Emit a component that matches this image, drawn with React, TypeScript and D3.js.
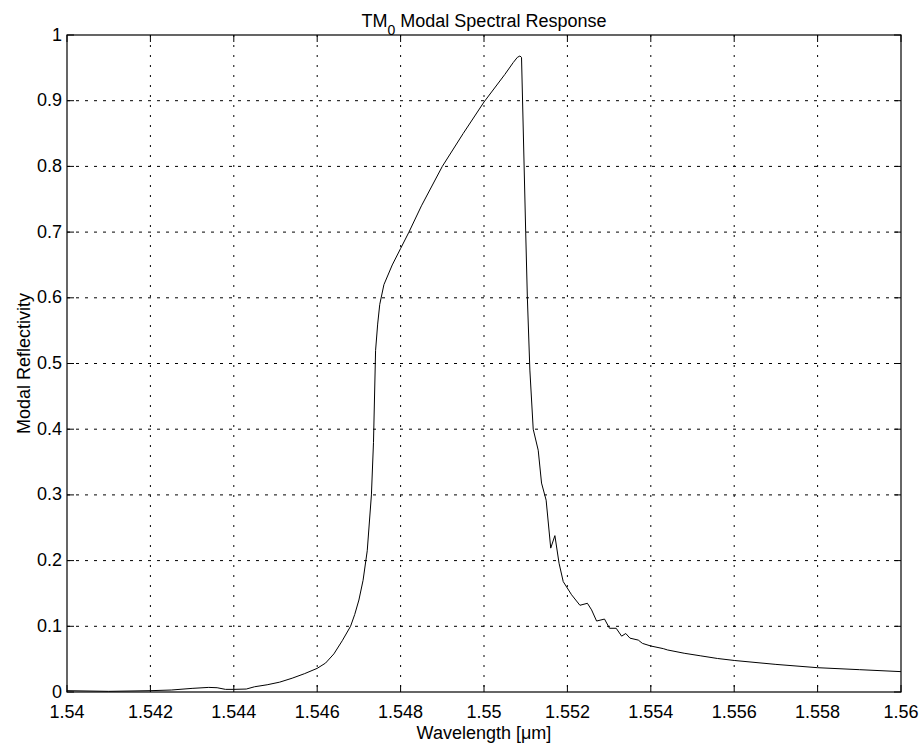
import React from "react";
import * as d3 from "d3";

const wavelength = [
  1.54, 1.541, 1.542, 1.5425, 1.543, 1.5434, 1.5436, 1.5438, 1.544, 1.5443,
  1.5445, 1.5448, 1.5451, 1.5454, 1.5457, 1.546, 1.5462, 1.5464, 1.5466, 1.5468,
  1.5469, 1.547, 1.5471, 1.5472, 1.5473, 1.54735, 1.5474, 1.54745, 1.5475, 1.5476,
  1.5478, 1.548, 1.5482, 1.5485, 1.549, 1.5495, 1.55, 1.5505, 1.5507, 1.5508,
  1.55086, 1.5509, 1.551, 1.55104, 1.5511, 1.55118, 1.5513, 1.55138, 1.55149, 1.5516,
  1.5517, 1.5518, 1.5519, 1.5521, 1.5523, 1.55248, 1.55258, 1.5527, 1.55289, 1.55301,
  1.55317, 1.5533, 1.5534, 1.5535, 1.5537, 1.5538, 1.554, 1.5543, 1.5544, 1.5548,
  1.5552, 1.5556, 1.556, 1.557, 1.558, 1.559, 1.56,
];
const reflectivity = [
  0.002, 0.001, 0.002, 0.003, 0.0055, 0.007, 0.0065, 0.004, 0.004, 0.0045,
  0.008, 0.011, 0.015, 0.021, 0.028, 0.036, 0.044, 0.058, 0.078, 0.1,
  0.118, 0.14, 0.17, 0.215, 0.3, 0.38, 0.52, 0.56, 0.59, 0.62,
  0.65, 0.675, 0.7, 0.74, 0.8, 0.85, 0.898, 0.94, 0.958, 0.966,
  0.968, 0.966, 0.7, 0.6, 0.49, 0.4, 0.368, 0.318, 0.292, 0.219,
  0.238, 0.196, 0.168, 0.148, 0.132, 0.135, 0.125, 0.108, 0.111, 0.097,
  0.097, 0.085, 0.089, 0.082, 0.079, 0.074, 0.07, 0.066, 0.064, 0.059,
  0.055, 0.051, 0.048, 0.042, 0.037, 0.034, 0.031,
];
const xTicks = [1.54, 1.542, 1.544, 1.546, 1.548, 1.55, 1.552, 1.554, 1.556, 1.558, 1.56];
const xTickLabels = ["1.54", "1.542", "1.544", "1.546", "1.548", "1.55", "1.552", "1.554", "1.556", "1.558", "1.56"];
const yTicks = [0, 0.1, 0.2, 0.3, 0.4, 0.5, 0.6, 0.7, 0.8, 0.9, 1];
const yTickLabels = ["0", "0.1", "0.2", "0.3", "0.4", "0.5", "0.6", "0.7", "0.8", "0.9", "1"];

const W = 923, H = 747;
const L = 67, R = 901, T = 35, B = 692;
const FONT = "Liberation Sans, Arial, sans-serif";

export default function App() {
  const x = d3.scaleLinear().domain([1.54, 1.56]).range([L, R]);
  const y = d3.scaleLinear().domain([0, 1]).range([B, T]);
  const pts: [number, number][] = wavelength.map((w, i) => [w, reflectivity[i]]);
  const line = d3.line<[number, number]>().x(d => x(d[0])).y(d => y(d[1]));
  const tk = 7;
  return (
    <svg width={W} height={H} style={{ position: "absolute", left: 0, top: 0, background: "#fff" }}>
      <rect x={0} y={0} width={W} height={H} fill="#fff" />
      {xTicks.slice(1, -1).map((t, i) => (
        <line key={"gx" + i} x1={x(t)} x2={x(t)} y1={T} y2={B} stroke="#000" strokeWidth={1} strokeDasharray="2,8" />
      ))}
      {yTicks.slice(1, -1).map((t, i) => (
        <line key={"gy" + i} x1={L} x2={R} y1={y(t)} y2={y(t)} stroke="#000" strokeWidth={1} strokeDasharray="3,6" />
      ))}
      {xTicks.map((t, i) => (
        <g key={"tx" + i}>
          <line x1={x(t)} x2={x(t)} y1={B} y2={B - tk} stroke="#000" />
          <line x1={x(t)} x2={x(t)} y1={T} y2={T + tk} stroke="#000" />
          <text x={x(t)} y={718} textAnchor="middle" fontFamily={FONT} fontSize={18}>{xTickLabels[i]}</text>
        </g>
      ))}
      {yTicks.map((t, i) => (
        <g key={"ty" + i}>
          <line x1={L} x2={L + tk} y1={y(t)} y2={y(t)} stroke="#000" />
          <line x1={R} x2={R - tk} y1={y(t)} y2={y(t)} stroke="#000" />
          <text x={62} y={y(t) + 5.5} textAnchor="end" fontFamily={FONT} fontSize={18}>{yTickLabels[i]}</text>
        </g>
      ))}
      <path d={line(pts) || ""} fill="none" stroke="#000" strokeWidth={1} />
      <rect x={L} y={T} width={R - L} height={B - T} fill="none" stroke="#000" strokeWidth={1.2} />
      <text x={(L + R) / 2} y={27} textAnchor="middle" fontFamily={FONT} fontSize={18}>
        TM<tspan fontSize={14} dy={8}>0</tspan><tspan dy={-8}> Modal Spectral Response</tspan>
      </text>
      <text x={(L + R) / 2} y={739} textAnchor="middle" fontFamily={FONT} fontSize={18}>Wavelength [μm]</text>
      <text transform={`translate(30,${(T + B) / 2}) rotate(-90)`} textAnchor="middle" fontFamily={FONT} fontSize={18}>Modal Reflectivity</text>
    </svg>
  );
}
